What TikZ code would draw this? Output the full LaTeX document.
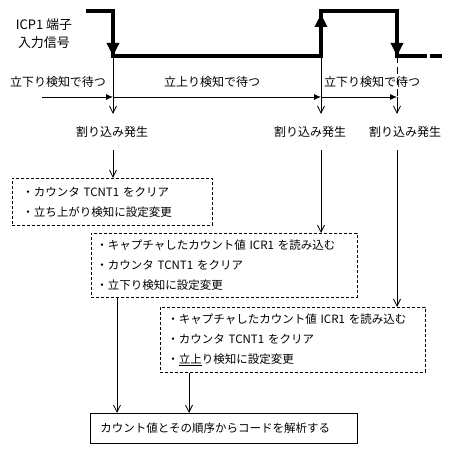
\documentclass[tikz,border=0pt]{standalone}
\usepackage{fontspec}
\setmainfont{Noto Sans CJK JP}
\usetikzlibrary{arrows.meta}

\begin{document}
\begin{tikzpicture}[x=1pt,y=-1pt,
	every node/.style={font=\fontsize{11.5pt}{20pt}\selectfont},
	signal/.style={line width=3.5pt,line join=miter},
	edge/.style={line width=3.5pt,-{Triangle[length=13pt,width=12pt]}},
	timeline/.style={line width=0.8pt,-{Latex[length=7pt,width=6pt]}},
	flow/.style={line width=0.8pt,-{Straight Barb[length=7pt,width=7pt]}},
	job/.style={draw,line width=0.8pt,dash pattern=on 3pt off 2pt,anchor=north west,align=left,inner ysep=0pt},
	result/.style={draw,line width=0.8pt,anchor=north west,align=left,inner xsep=10pt,inner ysep=0pt,text width=247pt,minimum height=30pt},
	wait/.style={font=\fontsize{12pt}{14pt}\selectfont},
	event/.style={inner sep=0pt,minimum height=36pt,font=\fontsize{12pt}{14pt}\selectfont}]
	\useasboundingbox (0,0) rectangle (464,454);
	% input signal
	\coordinate (start) at (86,11);
	\coordinate (fall1) at (113,56);
	\coordinate (rise) at (321,56);
	\coordinate (fall2) at (397,56);
	\coordinate (tail) at (427,56);
	\coordinate (dash1) at (430,56);
	\coordinate (dash2) at (442,56);
	\node[align=center,inner sep=0pt,font=\fontsize{13pt}{18pt}\selectfont] (pin) at (44,34) {ICP1 端子\\入力信号};
	\draw[signal] (start) -| (fall1) -- (rise) |- (fall2 |- start) -- (fall2) -- (tail);
	\draw[signal] (dash1) -- (dash2);
	\draw[edge] ([yshift=16pt]fall1) -- (fall1);
	\draw[edge] (rise) -- ([yshift=-3pt]rise |- start);
	\draw[edge] ([yshift=16pt]fall2) -- (fall2);
	% waiting states
	\coordinate (t0) at (42,97);
	\node[wait] (waitfall1) at (58,82) {立下り検知で待つ};
	\node[wait] (waitrise) at (212,82) {立上り検知で待つ};
	\node[wait] (waitfall2) at (372,82) {立下り検知で待つ};
	\draw[timeline] (t0) -- (fall1 |- t0);
	\draw[timeline] (fall1 |- t0) -- (rise |- t0);
	\draw[timeline] (rise |- t0) -- (fall2 |- t0);
	% interrupts
	\node[event] (int1) at (112,132) {割り込み発生};
	\node[event] (int2) at (310,132) {割り込み発生};
	\node[event] (int3) at (405,132) {割り込み発生};
	\draw[flow] (fall1) -- (fall1 |- int1.north);
	\draw[flow] (rise) -- (rise |- int2.north);
	\draw[line width=0.8pt,dash pattern=on 7pt off 4pt] (fall2) -- (fall2 |- t0);
	\draw[flow] (fall2 |- t0) -- (fall2 |- int3.north);
	% handlers
	\node[job,inner xsep=10pt,text width=180pt,minimum height=47pt] (clear1) at (12,178)
		{・カウンタ TCNT1 をクリア\\・立ち上がり検知に設定変更};
	\node[job,inner xsep=5pt,text width=256pt,minimum height=64pt] (capture1) at (91,233)
		{・キャプチャしたカウント値 ICR1 を読み込む\\・カウンタ TCNT1 をクリア\\・立下り検知に設定変更};
	\node[job,inner xsep=7pt,text width=251pt,minimum height=65pt] (capture2) at (160,307)
		{・キャプチャしたカウント値 ICR1 を読み込む\\・カウンタ TCNT1 をクリア\\・\underline{立上}り検知に設定変更};
	\node[result] (decode) at (90,413) {カウント値とその順序からコードを解析する};
	\draw[flow] (fall1 |- int1.south) -- (fall1 |- clear1.north);
	\draw[flow] (rise |- int2.south) -- (rise |- capture1.north);
	\draw[flow] (fall2 |- int3.south) -- (fall2 |- capture2.north);
	\coordinate (out1) at ([xshift=26pt]capture1.south west);
	\coordinate (out2) at ([xshift=29pt]capture2.south west);
	\draw[flow] (out1) -- (out1 |- decode.north);
	\draw[flow] (out2) -- (out2 |- decode.north);
\end{tikzpicture}
\end{document}
